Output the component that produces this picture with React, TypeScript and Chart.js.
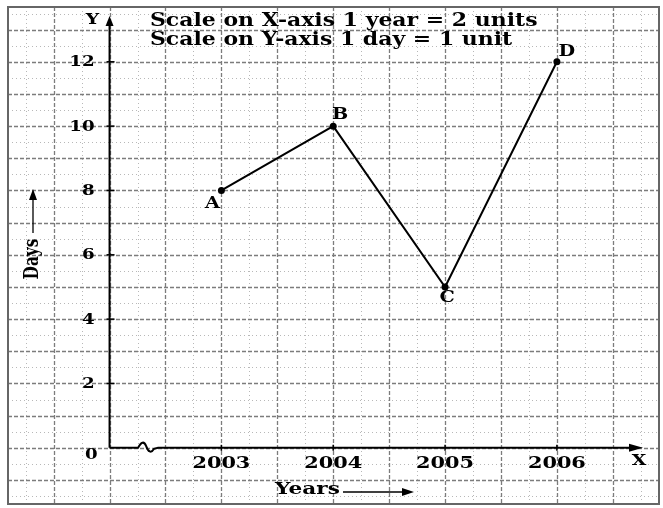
import React, { useEffect, useRef } from 'react';
import { Chart, registerables } from 'chart.js';

Chart.register(...registerables);

// ---- data ----
const years = [2003, 2004, 2005, 2006];
const days = [8, 10, 5, 12];
const pointNames = ['A', 'B', 'C', 'D'];
const yTickValues = [2, 4, 6, 8, 10, 12];
const xTickValues = [2003, 2004, 2005, 2006];
const scaleNotes = ['Scale on X-axis 1 year = 2 units', 'Scale on Y-axis 1 day = 1 unit'];
const xAxisTitle = 'Years';
const yAxisTitle = 'Days';

// ---- scale extents ----
const ORIGIN_X = 2002;
const X_MIN = 2001.092;
const X_MAX = 2006.913;
const Y_MIN = -1.746;
const Y_MAX = 13.703;

const FONT = "'DejaVu Serif', 'Liberation Serif', serif";
const labelOffsets = [
  [-9, 13],
  [7, -11],
  [2, 11],
  [10, -10],
];

function arrowHead(ctx: CanvasRenderingContext2D, tx: number, ty: number, dir: 'up' | 'right', len = 10, half = 4) {
  ctx.beginPath();
  if (dir === 'up') {
    ctx.moveTo(tx, ty);
    ctx.lineTo(tx - half, ty + len);
    ctx.lineTo(tx + half, ty + len);
  } else {
    ctx.moveTo(tx, ty);
    ctx.lineTo(tx - len, ty - half);
    ctx.lineTo(tx - len, ty + half);
  }
  ctx.closePath();
  ctx.fill();
}

// draw text horizontally stretched like the scanned original
function wideText(ctx: CanvasRenderingContext2D, text: string, x: number, y: number, align: CanvasTextAlign, sx: number) {
  ctx.save();
  ctx.translate(x, y);
  ctx.scale(sx, 1);
  ctx.textAlign = align;
  ctx.fillText(text, 0, 0);
  ctx.restore();
}

const paperPlugin = {
  id: 'paper',
  beforeDatasetsDraw(chart: any) {
    const { ctx, chartArea: a, scales } = chart;
    const xs = scales.x;
    const ys = scales.y;
    ctx.save();
    ctx.fillStyle = '#ffffff';
    ctx.fillRect(0, 0, chart.width, chart.height);

    // vertical grid lines every quarter year (major every half year)
    for (let k = Math.ceil(X_MIN * 4); k <= Math.floor(X_MAX * 4); k++) {
      const v = k / 4;
      const px = Math.round(xs.getPixelForValue(v)) + 0.5;
      const major = k % 2 === 0;
      ctx.strokeStyle = major ? '#7c7c7c' : '#b8b8b8';
      ctx.lineWidth = major ? 1.3 : 1;
      ctx.setLineDash(major ? [4, 2] : [1, 3]);
      ctx.beginPath();
      ctx.moveTo(px, a.top);
      ctx.lineTo(px, a.bottom);
      ctx.stroke();
    }
    // horizontal grid lines every half day (major every day)
    for (let k = Math.ceil(Y_MIN * 2); k <= Math.floor(Y_MAX * 2); k++) {
      const v = k / 2;
      const py = Math.round(ys.getPixelForValue(v)) + 0.5;
      const major = k % 2 === 0;
      ctx.strokeStyle = major ? '#7c7c7c' : '#b8b8b8';
      ctx.lineWidth = major ? 1.3 : 1;
      ctx.setLineDash(major ? [4, 2] : [1, 3]);
      ctx.beginPath();
      ctx.moveTo(a.left, py);
      ctx.lineTo(a.right, py);
      ctx.stroke();
    }
    ctx.setLineDash([]);

    // frame
    ctx.strokeStyle = '#666';
    ctx.lineWidth = 2;
    ctx.strokeRect(a.left, a.top, a.right - a.left, a.bottom - a.top);

    // axes
    const x0 = xs.getPixelForValue(ORIGIN_X);
    const y0 = ys.getPixelForValue(0);
    const yTop = ys.getPixelForValue(13.42);
    const xEnd = xs.getPixelForValue(2006.77);
    ctx.strokeStyle = '#000';
    ctx.fillStyle = '#000';
    ctx.lineWidth = 2;
    ctx.beginPath();
    ctx.moveTo(x0, y0);
    ctx.lineTo(x0, yTop + 6);
    ctx.stroke();
    arrowHead(ctx, x0, yTop, 'up', 10, 4);

    // x axis with break mark
    const b0 = xs.getPixelForValue(2002.255);
    ctx.beginPath();
    ctx.moveTo(x0, y0);
    ctx.lineTo(b0, y0);
    ctx.bezierCurveTo(b0 + 3, y0 - 6, b0 + 6, y0 - 7, b0 + 8, y0 - 2);
    ctx.bezierCurveTo(b0 + 10, y0 + 4, b0 + 13, y0 + 6, b0 + 16, y0 + 1);
    ctx.lineTo(b0 + 20, y0);
    ctx.lineTo(xEnd - 6, y0);
    ctx.stroke();
    arrowHead(ctx, xEnd, y0, 'right', 14, 4);

    // ticks
    ctx.lineWidth = 1.5;
    yTickValues.forEach((v) => {
      const py = ys.getPixelForValue(v);
      ctx.beginPath();
      ctx.moveTo(x0 - 3, py);
      ctx.lineTo(x0 + 5, py);
      ctx.stroke();
    });
    xTickValues.forEach((v) => {
      const px = xs.getPixelForValue(v);
      ctx.beginPath();
      ctx.moveTo(px, y0 - 3);
      ctx.lineTo(px, y0 + 3);
      ctx.stroke();
    });

    ctx.textBaseline = 'middle';
    // y tick labels
    ctx.font = `bold 14px ${FONT}`;
    yTickValues.forEach((v) => {
      wideText(ctx, String(v), x0 - 15, ys.getPixelForValue(v) + 1, 'right', 1.3);
    });
    wideText(ctx, '0', x0 - 12, y0 + 8, 'right', 1.3);
    // x tick labels
    ctx.font = `bold 16px ${FONT}`;
    xTickValues.forEach((v) => {
      wideText(ctx, String(v), xs.getPixelForValue(v), y0 + 16, 'center', 1.3);
    });

    // axis letters
    ctx.font = `bold 15px ${FONT}`;
    wideText(ctx, 'Y', x0 - 17, yTop + 4, 'center', 1.25);
    wideText(ctx, 'X', xEnd - 4, y0 + 13, 'center', 1.25);

    // scale notes
    ctx.font = `bold 18px ${FONT}`;
    wideText(ctx, scaleNotes[0], 150, 21, 'left', 1.22);
    wideText(ctx, scaleNotes[1], 150, 40, 'left', 1.22);

    // Years title + arrow
    ctx.font = `bold 16px ${FONT}`;
    wideText(ctx, xAxisTitle, 275, 490, 'left', 1.35);
    ctx.lineWidth = 1.3;
    ctx.beginPath();
    ctx.moveTo(343, 492);
    ctx.lineTo(405, 492);
    ctx.stroke();
    arrowHead(ctx, 414, 492, 'right', 12, 4);

    // Days title + arrow (rotated, glyphs stretched across)
    ctx.save();
    ctx.translate(33, 259);
    ctx.rotate(-Math.PI / 2);
    ctx.scale(1.1, 1.5);
    ctx.textAlign = 'center';
    ctx.font = `bold 14px ${FONT}`;
    ctx.fillText(yAxisTitle, 0, 0);
    ctx.restore();
    ctx.beginPath();
    ctx.moveTo(33, 233);
    ctx.lineTo(33, 198);
    ctx.stroke();
    arrowHead(ctx, 33, 189, 'up', 11, 4);

    ctx.restore();
  },
  afterDatasetsDraw(chart: any) {
    const { ctx } = chart;
    const meta = chart.getDatasetMeta(0);
    ctx.save();
    ctx.fillStyle = '#000';
    ctx.font = `bold 16px ${FONT}`;
    ctx.textBaseline = 'middle';
    meta.data.forEach((pt: any, i: number) => {
      const [dx, dy] = labelOffsets[i];
      wideText(ctx, pointNames[i], pt.x + dx, pt.y + dy, 'center', 1.2);
    });
    ctx.restore();
  },
};

export default function App() {
  const ref = useRef<HTMLCanvasElement | null>(null);
  useEffect(() => {
    if (!ref.current) return;
    const chart = new Chart(ref.current, {
      type: 'line',
      data: {
        datasets: [
          {
            data: years.map((yr, i) => ({ x: yr, y: days[i] })),
            borderColor: '#000',
            backgroundColor: '#000',
            borderWidth: 2,
            pointRadius: 3.5,
            pointBackgroundColor: '#000',
            pointBorderWidth: 0,
            tension: 0,
            fill: false,
          },
        ],
      },
      options: {
        responsive: false,
        animation: false,
        devicePixelRatio: 1,
        layout: { padding: { left: 8, top: 7, right: 3, bottom: 2 } },
        plugins: { legend: { display: false }, tooltip: { enabled: false } },
        scales: {
          x: { type: 'linear', min: X_MIN, max: X_MAX, display: false },
          y: { type: 'linear', min: Y_MIN, max: Y_MAX, display: false },
        },
      },
      plugins: [paperPlugin],
    });
    return () => chart.destroy();
  }, []);
  return (
    <div style={{ position: 'fixed', left: 0, top: 0, width: 663, height: 508 }}>
      <canvas ref={ref} width={663} height={508} />
    </div>
  );
}
